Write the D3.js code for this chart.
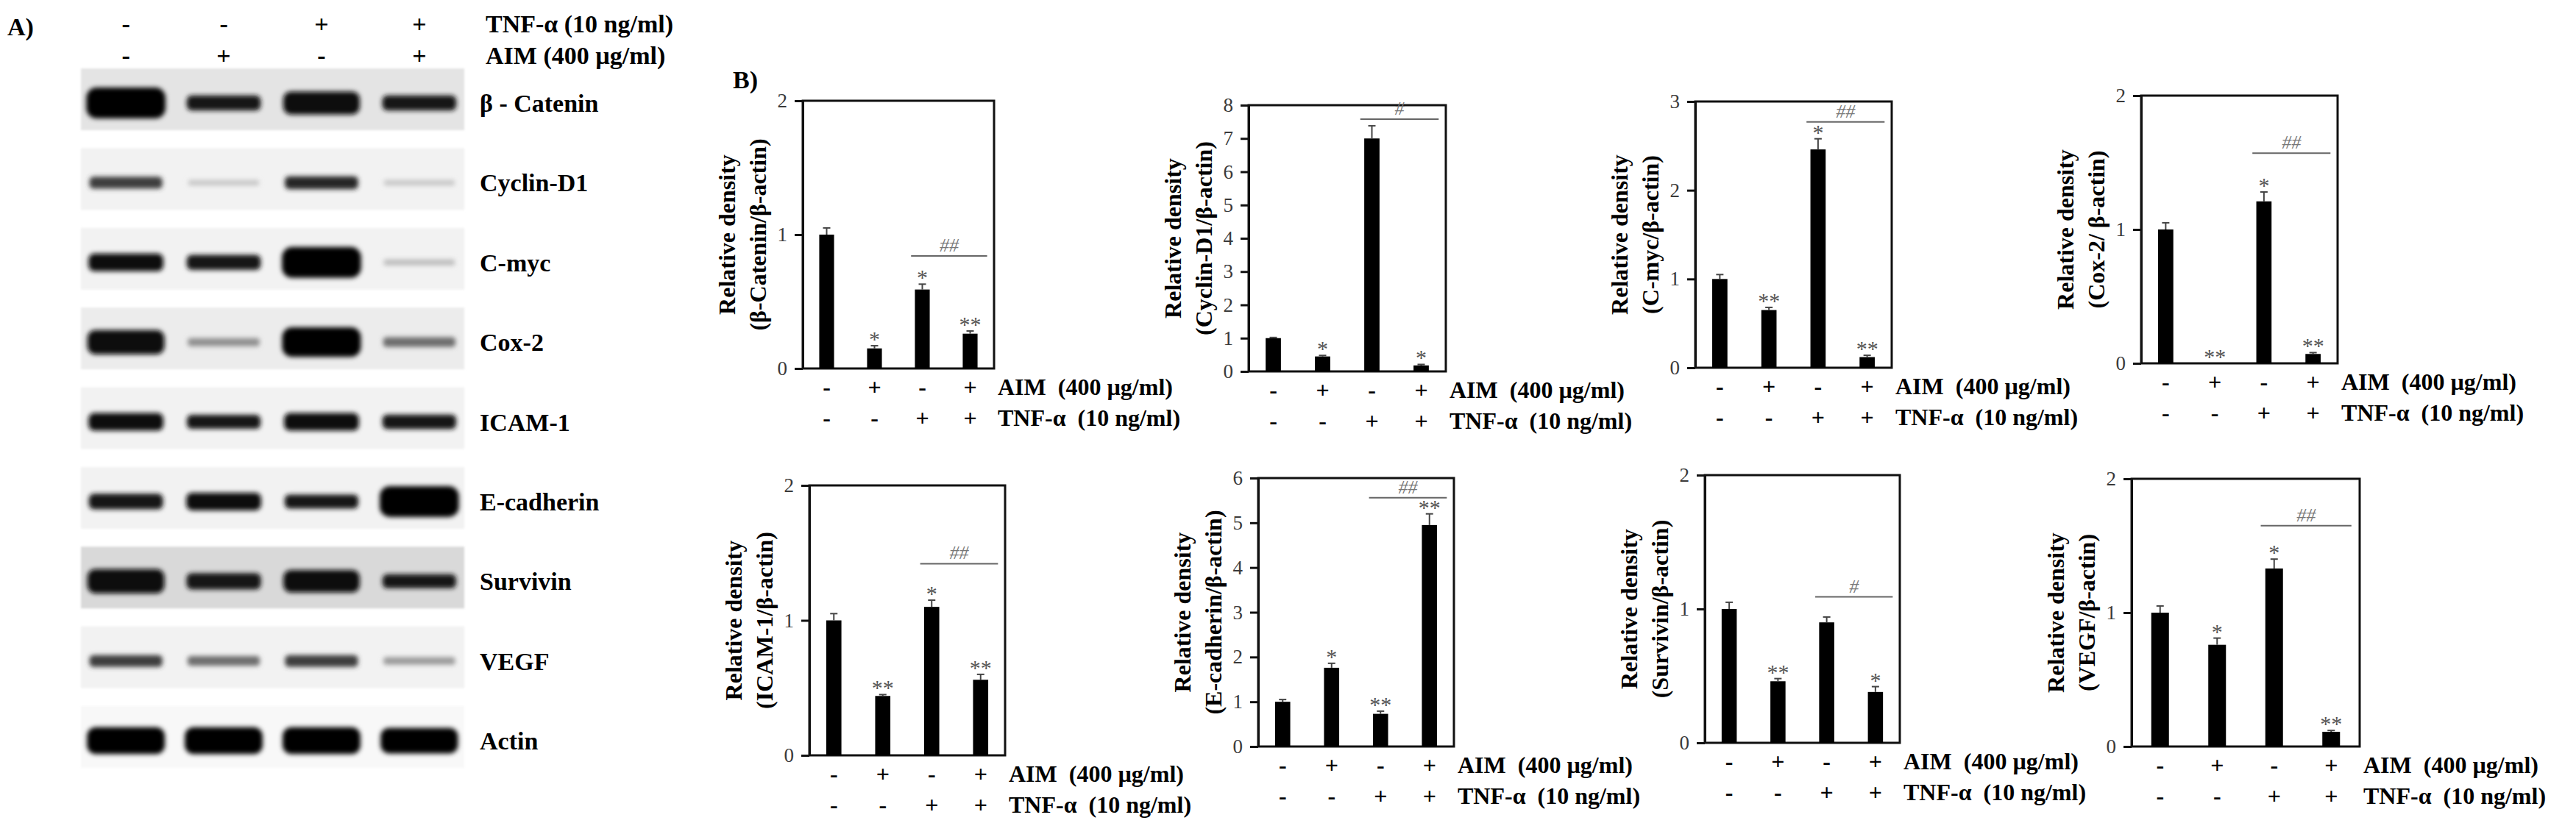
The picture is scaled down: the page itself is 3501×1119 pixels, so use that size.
<!DOCTYPE html>
<html>
<head>
<meta charset="utf-8">
<script src="https://cdn.jsdelivr.net/npm/d3@7"></script>
<style>
  body { margin: 0; background: #fff; }
  svg text { font-family: "Liberation Serif", "Times New Roman", serif; }
</style>
</head>
<body>
<div id="fig"></div>
<script>
// ---- data ----

// lane treatments (same for blot and bar charts)
var lanes = ["1", "2", "3", "4"];
var tnfSigns = ["-", "-", "+", "+"];
var aimSigns = ["-", "+", "-", "+"];

// western blot rows and estimated band strength (0..1)
var blotProteins = ["β - Catenin", "Cyclin-D1", "C-myc", "Cox-2", "ICAM-1", "E-cadherin", "Survivin", "VEGF", "Actin"];
var bandStrength = [
  [1.00, 0.40, 0.70, 0.40],
  [0.28, 0.04, 0.32, 0.04],
  [0.50, 0.40, 1.00, 0.06],
  [0.75, 0.14, 0.95, 0.20],
  [0.50, 0.36, 0.50, 0.38],
  [0.42, 0.50, 0.36, 1.00],
  [0.75, 0.45, 0.68, 0.36],
  [0.28, 0.20, 0.28, 0.12],
  [0.85, 0.85, 0.85, 0.80]
];

// densitometry bar charts (panel B)
var chartLabels = ["(β-Catenin/β-actin)", "(Cyclin-D1/β-actin)", "(C-myc/β-actin)", "(Cox-2/ β-actin)",
                   "(ICAM-1/β-actin)", "(E-cadherin/β-actin)", "(Survivin/β-actin)", "(VEGF/β-actin)"];
var yMaxes = [2, 8, 3, 2, 2, 6, 2, 2];
var meanValues = [
  [1.00, 0.15, 0.59, 0.26],
  [1.00, 0.45, 7.00, 0.18],
  [1.00, 0.65, 2.46, 0.12],
  [1.00, 0.00, 1.21, 0.07],
  [1.00, 0.44, 1.10, 0.56],
  [1.00, 1.76, 0.73, 4.95],
  [1.00, 0.46, 0.90, 0.38],
  [1.00, 0.76, 1.33, 0.11]
];
var errValues = [
  [0.05, 0.02, 0.04, 0.02],
  [0.02, 0.03, 0.38, 0.03],
  [0.05, 0.03, 0.12, 0.02],
  [0.05, 0.00, 0.07, 0.01],
  [0.05, 0.01, 0.05, 0.04],
  [0.05, 0.10, 0.06, 0.25],
  [0.05, 0.02, 0.04, 0.04],
  [0.05, 0.05, 0.07, 0.01]
];
var starMarks = [
  ["", "*", "*", "**"],
  ["", "*", "", "*"],
  ["", "**", "*", "**"],
  ["", "**", "*", "**"],
  ["", "**", "*", "**"],
  ["", "*", "**", "**"],
  ["", "**", "", "*"],
  ["", "*", "*", "**"]
];
var hashMarks = ["##", "#", "##", "##", "##", "##", "#", "##"];
var hashLevels = [0.84, 7.58, 2.77, 1.57, 1.42, 5.56, 1.09, 1.65];

// ---- layout ----
var W = 3501, H = 1119;
var chartBoxes = [
  { x: 1091, y: 137, w: 260, h: 364 },
  { x: 1697, y: 143, w: 268, h: 362 },
  { x: 2304, y: 138, w: 267, h: 362 },
  { x: 2910, y: 130, w: 267, h: 364 },
  { x: 1100, y: 660, w: 266, h: 367 },
  { x: 1710, y: 650, w: 266, h: 365 },
  { x: 2317, y: 646, w: 265, h: 364 },
  { x: 2897, y: 651, w: 310, h: 364 }
];
var stripShade = { "β - Catenin": "#e4e4e4", "Survivin": "#d9d9d9", "Cox-2": "#ececec", "Actin": "#f8f8f8" };

var svg = d3.select("#fig").append("svg")
  .attr("width", W)
  .attr("height", H)
  .style("background", "#fff");

var defs = svg.append("defs");
defs.append("filter").attr("id", "blurBand")
  .attr("x", "-20%").attr("y", "-80%").attr("width", "140%").attr("height", "260%")
  .append("feGaussianBlur").attr("stdDeviation", 3);
defs.append("filter").attr("id", "blurStrip")
  .append("feGaussianBlur").attr("stdDeviation", 1.5);

var boldFont = "bold";

// ---------------- panel A : western blot ----------------
var laneX = d3.scaleBand().domain(lanes).range([110, 631]).paddingInner(0.12).paddingOuter(0.02);
var rowY = d3.scaleBand().domain(blotProteins).range([93, 1044]).paddingInner(0.225).paddingOuter(0);

svg.append("text")
  .attr("x", 10).attr("y", 48)
  .attr("font-size", "34px").attr("font-weight", boldFont)
  .text("A)");

// treatment header rows
var headerRows = [
  { signs: tnfSigns, label: "TNF-α (10 ng/ml)", y: 44 },
  { signs: aimSigns, label: "AIM (400 µg/ml)", y: 87 }
];
headerRows.forEach(function(row) {
  svg.selectAll(null).data(lanes).enter().append("text")
    .attr("x", function(d) { return laneX(d) + laneX.bandwidth() / 2; })
    .attr("y", row.y)
    .attr("font-size", "34px").attr("font-weight", boldFont)
    .attr("text-anchor", "middle")
    .text(function(d, i) { return row.signs[i]; });
  svg.append("text")
    .attr("x", 660).attr("y", row.y)
    .attr("font-size", "34px").attr("font-weight", boldFont)
    .text(row.label);
});

var strips = svg.selectAll("g.strip").data(blotProteins).enter().append("g")
  .attr("class", "strip")
  .attr("transform", function(d) { return "translate(0," + rowY(d) + ")"; });

strips.append("rect")
  .attr("x", laneX.range()[0]).attr("y", 0)
  .attr("width", laneX.range()[1] - laneX.range()[0])
  .attr("height", rowY.bandwidth())
  .attr("fill", function(d) { return stripShade[d] || "#f2f2f2"; })
  .attr("filter", "url(#blurStrip)");

// band thickness and darkness follow the estimated strength
var bandThick = d3.scaleLinear().domain([0, 1]).range([6, 42]);
var bandShade = d3.scaleLinear().domain([0, 0.15, 0.35, 1]).range(["#dcdcdc", "#8a8a8a", "#151515", "#000000"]);

strips.each(function(name, r) {
  var g = d3.select(this);
  g.selectAll("rect.band").data(bandStrength[r]).enter().append("rect")
    .attr("class", "band")
    .attr("x", function(v, i) { return laneX(lanes[i]) + laneX.bandwidth() * (0.09 - 0.05 * v); })
    .attr("width", function(v) { return laneX.bandwidth() * (0.82 + 0.10 * v); })
    .attr("y", function(v) { return rowY.bandwidth() * 0.56 - bandThick(v) / 2; })
    .attr("height", function(v) { return bandThick(v); })
    .attr("rx", function(v) { return bandThick(v) / 3; })
    .attr("fill", function(v) { return bandShade(v); })
    .attr("filter", "url(#blurBand)");
});

svg.selectAll("text.protein").data(blotProteins).enter().append("text")
  .attr("class", "protein")
  .attr("x", 652)
  .attr("y", function(d) { return rowY(d) + rowY.bandwidth() * 0.56 + 12; })
  .attr("font-size", "34px").attr("font-weight", boldFont)
  .text(function(d) { return d; });

// ---------------- panel B : bar charts ----------------
svg.append("text")
  .attr("x", 996).attr("y", 120)
  .attr("font-size", "34px").attr("font-weight", boldFont)
  .text("B)");

function drawChart(i) {
  var box = chartBoxes[i];
  var g = svg.append("g").attr("transform", "translate(" + box.x + "," + box.y + ")");

  var x = d3.scaleBand().domain(lanes).range([0, box.w]).paddingInner(0.69).paddingOuter(0.345);
  var y = d3.scaleLinear().domain([0, yMaxes[i]]).range([box.h, 0]);

  // frame
  g.append("rect")
    .attr("x", 0).attr("y", 0).attr("width", box.w).attr("height", box.h)
    .attr("fill", "none").attr("stroke", "#111").attr("stroke-width", 3);

  // left axis with outward ticks
  var axis = g.append("g")
    .call(d3.axisLeft(y).tickValues(d3.range(0, yMaxes[i] + 1)).tickFormat(d3.format("d"))
      .tickSize(11).tickSizeOuter(0).tickPadding(10));
  axis.select(".domain").attr("stroke", "#111").attr("stroke-width", 3);
  axis.selectAll(".tick line").attr("stroke", "#111").attr("stroke-width", 3);
  axis.selectAll(".tick text")
    .attr("font-family", "Liberation Serif, Times New Roman, serif")
    .attr("font-size", "27px").attr("fill", "#3a3a3a");

  // bars
  var rows = lanes.map(function(l, k) {
    return { lane: l, mean: meanValues[i][k], err: errValues[i][k], star: starMarks[i][k] };
  });
  g.selectAll("rect.bar").data(rows).enter().append("rect")
    .attr("class", "bar")
    .attr("x", function(d) { return x(d.lane); })
    .attr("width", x.bandwidth())
    .attr("y", function(d) { return y(d.mean); })
    .attr("height", function(d) { return box.h - y(d.mean); })
    .attr("fill", "#000");

  // error bars (upper half only)
  var eb = g.selectAll("g.err").data(rows.filter(function(d) { return d.err > 0; })).enter().append("g");
  eb.append("line")
    .attr("x1", function(d) { return x(d.lane) + x.bandwidth() / 2; })
    .attr("x2", function(d) { return x(d.lane) + x.bandwidth() / 2; })
    .attr("y1", function(d) { return y(d.mean); })
    .attr("y2", function(d) { return y(d.mean + d.err); })
    .attr("stroke", "#444").attr("stroke-width", 2);
  eb.append("line")
    .attr("x1", function(d) { return x(d.lane) + x.bandwidth() / 2 - 5; })
    .attr("x2", function(d) { return x(d.lane) + x.bandwidth() / 2 + 5; })
    .attr("y1", function(d) { return y(d.mean + d.err); })
    .attr("y2", function(d) { return y(d.mean + d.err); })
    .attr("stroke", "#444").attr("stroke-width", 2);

  // significance stars
  g.selectAll("text.star").data(rows.filter(function(d) { return d.star; })).enter().append("text")
    .attr("x", function(d) { return x(d.lane) + x.bandwidth() / 2; })
    .attr("y", function(d) { return y(d.mean + d.err) + 1; })
    .attr("text-anchor", "middle")
    .attr("font-size", "30px").attr("fill", "#555")
    .text(function(d) { return d.star; });

  // TNF vs TNF+AIM comparison line
  var hx1 = x(lanes[2]) - x.step() * 0.08;
  var hx2 = x(lanes[3]) + x.bandwidth() + x.step() * 0.2;
  g.append("line")
    .attr("x1", hx1).attr("x2", hx2)
    .attr("y1", y(hashLevels[i])).attr("y2", y(hashLevels[i]))
    .attr("stroke", "#666").attr("stroke-width", 2);
  g.append("text")
    .attr("x", (hx1 + hx2) / 2).attr("y", y(hashLevels[i]) - 6)
    .attr("text-anchor", "middle")
    .attr("font-size", "26px").attr("font-style", "italic").attr("fill", "#777")
    .text(hashMarks[i]);

  // treatment signs under bars and their labels
  var signRows = [
    { signs: aimSigns, label: "AIM  (400 µg/ml)", dy: 36 },
    { signs: tnfSigns, label: "TNF-α  (10 ng/ml)", dy: 78 }
  ];
  signRows.forEach(function(sr) {
    g.selectAll(null).data(lanes).enter().append("text")
      .attr("x", function(d) { return x(d) + x.bandwidth() / 2; })
      .attr("y", box.h + sr.dy)
      .attr("text-anchor", "middle")
      .attr("font-size", "32px").attr("font-weight", boldFont)
      .text(function(d, k) { return sr.signs[k]; });
    g.append("text")
      .attr("x", box.w + 5).attr("y", box.h + sr.dy)
      .attr("font-size", "32px").attr("font-weight", boldFont)
      .style("white-space", "pre")
      .attr("xml:space", "preserve")
      .text(sr.label);
  });

  // y axis title (two lines)
  var titleLines = ["Relative density", chartLabels[i]];
  titleLines.forEach(function(t, k) {
    g.append("text")
      .attr("transform", "translate(" + (k === 0 ? -103 : -61) + "," + (box.h / 2) + ") rotate(-90)")
      .attr("text-anchor", "middle")
      .attr("dominant-baseline", "central")
      .attr("font-size", "32px").attr("font-weight", boldFont)
      .text(t);
  });
}

for (var c = 0; c < chartBoxes.length; c++) {
  drawChart(c);
}
</script>
</body>
</html>
